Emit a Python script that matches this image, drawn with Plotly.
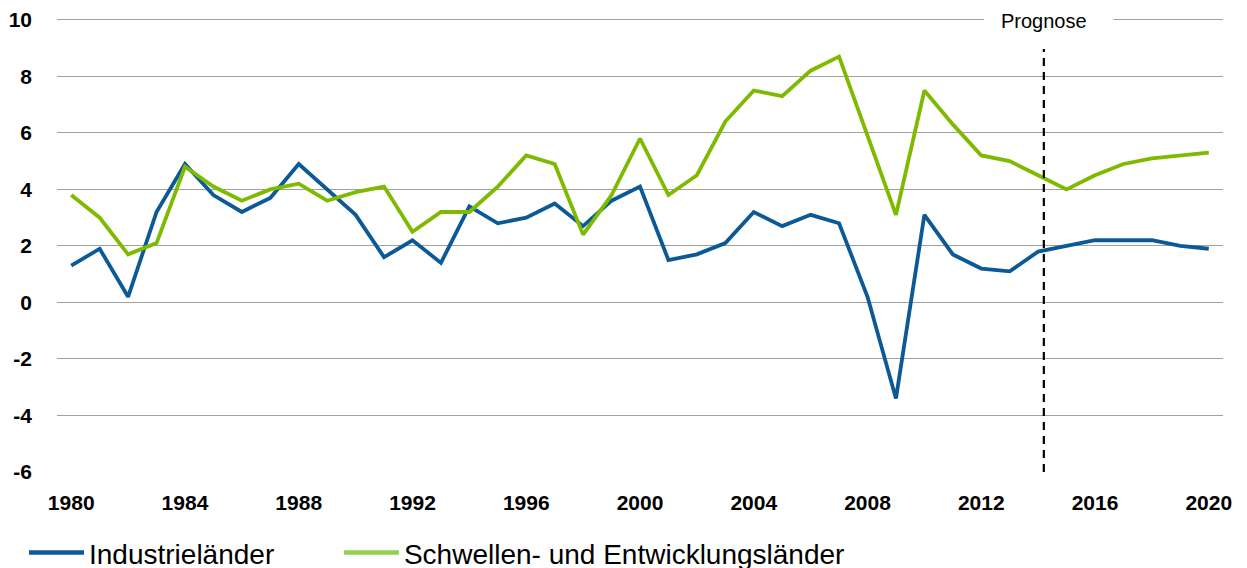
import plotly.graph_objects as go

years = list(range(1980, 2021))
industrie = [1.3, 1.9, 0.2, 3.2, 4.9, 3.8, 3.2, 3.7, 4.9, 4.0,
             3.1, 1.6, 2.2, 1.4, 3.4, 2.8, 3.0, 3.5, 2.7, 3.6,
             4.1, 1.5, 1.7, 2.1, 3.2, 2.7, 3.1, 2.8, 0.2, -3.4,
             3.1, 1.7, 1.2, 1.1, 1.8, 2.0, 2.2, 2.2, 2.2, 2.0, 1.9]
schwellen = [3.8, 3.0, 1.7, 2.1, 4.8, 4.1, 3.6, 4.0, 4.2, 3.6,
             3.9, 4.1, 2.5, 3.2, 3.2, 4.1, 5.2, 4.9, 2.4, 3.8,
             5.8, 3.8, 4.5, 6.4, 7.5, 7.3, 8.2, 8.7, 5.9, 3.1,
             7.5, 6.3, 5.2, 5.0, 4.5, 4.0, 4.5, 4.9, 5.1, 5.2, 5.3]
names = ["Industrieländer", "Schwellen- und Entwicklungsländer"]
x_ticks = list(range(1980, 2021, 4))
y_ticks = list(range(-6, 11, 2))
forecast_start = 2014.2
forecast_label = "Prognose"

BLUE = "#0b5a97"
GREEN = "#7dba00"
GREEN_LEGEND = "#92d050"

tick_font = dict(family="Liberation Sans, Arial", size=21, color="#000000", weight="bold")
legend_font = dict(family="Liberation Sans, Arial", size=28, color="#000000")

fig = go.Figure()
fig.add_trace(go.Scatter(x=years, y=industrie, mode="lines", line=dict(color=BLUE, width=3.8),
                         showlegend=False, hoverinfo="x+y"))
fig.add_trace(go.Scatter(x=years, y=schwellen, mode="lines", line=dict(color=GREEN, width=3.8),
                         showlegend=False, hoverinfo="x+y"))
# legend entries
fig.add_trace(go.Scatter(x=[None], y=[None], mode="lines", name=names[0],
                         line=dict(color=BLUE, width=4.5), legend="legend"))
fig.add_trace(go.Scatter(x=[None], y=[None], mode="lines", name=names[1],
                         line=dict(color=GREEN_LEGEND, width=4.5), legend="legend2"))

# white patch behind the label on the top gridline
fig.add_shape(type="rect", xref="x", yref="y", x0=forecast_start - 2.1, x1=forecast_start + 2.45,
              y0=9.85, y1=10.09, fillcolor="white", line=dict(width=0), layer="above")
fig.add_shape(type="line", xref="x", yref="y", x0=forecast_start, x1=forecast_start, y0=-6, y1=8.97,
              line=dict(color="#000000", width=2.2, dash="8px,6px"), layer="above")
fig.add_annotation(x=forecast_start, y=10, xref="x", yref="y", text=forecast_label, showarrow=False,
                   font=dict(family="Liberation Sans, Arial", size=20, color="#000000"),
                   xanchor="center", yanchor="middle", yshift=-1)

legend_common = dict(orientation="h", xref="container", yref="container", y=0.027,
                     xanchor="left", yanchor="middle", font=legend_font, itemwidth=55,
                     bgcolor="rgba(0,0,0,0)")

# the page body adds an 8px margin, so the figure is sized/offset to compensate
fig.update_layout(
    width=1239, height=560,
    margin=dict(l=49, r=24, t=9, b=96),
    plot_bgcolor="white", paper_bgcolor="white",
    xaxis=dict(range=[1979.5, 2020.5], tickvals=x_ticks, ticktext=[str(v) for v in x_ticks],
               showgrid=False, zeroline=False, showline=False, ticks="", automargin=False,
               tickfont=tick_font, ticklabelstandoff=16),
    yaxis=dict(range=[-6, 10.1], tickvals=y_ticks, ticktext=[str(v) for v in y_ticks],
               showgrid=True, gridcolor="#a0a0a0", gridwidth=1.3, zeroline=False, showline=False,
               ticks="", automargin=False, tickfont=tick_font, ticklabelstandoff=24),
    legend=dict(x=0.0129, **legend_common),
    legend2=dict(x=0.2671, **legend_common),
    showlegend=True,
)

fig.write_html("out.html")
